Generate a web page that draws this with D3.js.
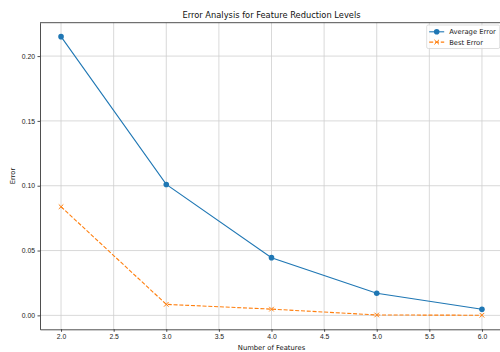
<!DOCTYPE html>
<html>
<head>
<meta charset="utf-8">
<script src="https://cdn.jsdelivr.net/npm/d3@7"></script>
<style>
  body { margin: 0; background: #fff; }
  svg { font-family: "DejaVu Sans", sans-serif; display: block; }
  .grid line { stroke: #cfcfcf; stroke-width: 0.8; }
  .axis path, .axis line { stroke: #222; stroke-width: 0.8; }
  .axis text { fill: #222; font-size: 6.8px; }
</style>
</head>
<body>
<svg id="chart" width="500" height="352"></svg>
<script>
  /***** Data *****/
  var features = [2.0, 3.0, 4.0, 5.0, 6.0];
  var averageError = [0.215, 0.101, 0.0445, 0.017, 0.0047];
  var bestError = [0.0838, 0.0085, 0.0048, 0.0003, 0.0001];
  var xTicks = [2.0, 2.5, 3.0, 3.5, 4.0, 4.5, 5.0, 5.5, 6.0];
  var yTicks = [0.00, 0.05, 0.10, 0.15, 0.20];
  var seriesNames = ["Average Error", "Best Error"];

  /***** Configuration *****/
  var margin = {top: 22.7, right: -3, bottom: 22.7, left: 40};
  var width = 500 - margin.left - margin.right,
      height = 352 - margin.top - margin.bottom;
  var blue = "#1f77b4", orange = "#ff7f0e";

  var svg = d3.select("#chart");
  var g = svg.append("g")
    .attr("transform", "translate(" + margin.left + "," + margin.top + ")");

  // matplotlib-like 5% margins
  var x = d3.scaleLinear().domain([1.8, 6.2]).range([0, width]);
  var yMax = 0.215, ySpan = yMax * 0.05;
  var y = d3.scaleLinear().domain([-ySpan, yMax + ySpan]).range([height, 0]);

  /***** Grid *****/
  var grid = g.append("g").attr("class", "grid");
  grid.selectAll(".gx").data(xTicks).enter().append("line")
    .attr("x1", function (d) { return x(d); }).attr("x2", function (d) { return x(d); })
    .attr("y1", 0).attr("y2", height);
  grid.selectAll(".gy").data(yTicks).enter().append("line")
    .attr("y1", function (d) { return y(d); }).attr("y2", function (d) { return y(d); })
    .attr("x1", 0).attr("x2", width);

  /***** Axes *****/
  g.append("g").attr("class", "axis")
    .attr("transform", "translate(0," + height + ")")
    .call(d3.axisBottom(x).tickValues(xTicks).tickFormat(d3.format(".1f")).tickSize(2.5).tickPadding(2.5).tickSizeOuter(0));
  g.append("g").attr("class", "axis")
    .call(d3.axisLeft(y).tickValues(yTicks).tickFormat(d3.format(".2f")).tickSize(2.5).tickPadding(2.5).tickSizeOuter(0));
  // top/right spines
  g.append("line").attr("x1", 0).attr("x2", width).attr("y1", 0).attr("y2", 0)
    .attr("stroke", "#222").attr("stroke-width", 0.8);
  g.append("line").attr("x1", width).attr("x2", width).attr("y1", 0).attr("y2", height)
    .attr("stroke", "#222").attr("stroke-width", 0.8);

  /***** Lines *****/
  var line = d3.line().x(function (d) { return x(d[0]); }).y(function (d) { return y(d[1]); });
  var avgPts = d3.zip(features, averageError);
  var bestPts = d3.zip(features, bestError);

  g.append("path").datum(avgPts).attr("d", line)
    .attr("fill", "none").attr("stroke", blue).attr("stroke-width", 1.1);
  g.selectAll(".avgPt").data(avgPts).enter().append("circle")
    .attr("cx", function (d) { return x(d[0]); }).attr("cy", function (d) { return y(d[1]); })
    .attr("r", 2.8).attr("fill", blue);

  g.append("path").datum(bestPts).attr("d", line)
    .attr("fill", "none").attr("stroke", orange).attr("stroke-width", 1.1)
    .attr("stroke-dasharray", "4,1.8");
  var xMark = function (sel, cx, cy) {
    var s = 2.3;
    sel.append("path")
      .attr("d", "M" + (cx - s) + "," + (cy - s) + "L" + (cx + s) + "," + (cy + s) +
                 "M" + (cx - s) + "," + (cy + s) + "L" + (cx + s) + "," + (cy - s))
      .attr("stroke", orange).attr("stroke-width", 1).attr("fill", "none");
  };
  bestPts.forEach(function (d) { xMark(g, x(d[0]), y(d[1])); });

  /***** Title and labels *****/
  svg.append("text").attr("x", margin.left + width / 2).attr("y", 18)
    .attr("text-anchor", "middle").attr("font-size", 8.3).attr("fill", "#111")
    .text("Error Analysis for Feature Reduction Levels");
  svg.append("text").attr("x", margin.left + width / 2).attr("y", 350)
    .attr("text-anchor", "middle").attr("font-size", 6.8).attr("fill", "#111")
    .text("Number of Features");
  svg.append("text")
    .attr("transform", "translate(15," + (margin.top + height / 2) + ") rotate(-90)")
    .attr("text-anchor", "middle").attr("font-size", 6.8).attr("fill", "#111")
    .text("Error");

  /***** Legend *****/
  var legend = g.append("g").attr("transform", "translate(" + (426.7 - margin.left) + "," + (25 - margin.top) + ")");
  legend.append("rect").attr("width", 73).attr("height", 23.5).attr("rx", 1.5)
    .attr("fill", "#fff").attr("fill-opacity", 0.8).attr("stroke", "#d5d5d5").attr("stroke-width", 0.8);
  seriesNames.forEach(function (name, i) {
    var ly = 6.8 + i * 10.3;
    var col = i === 0 ? blue : orange;
    var item = legend.append("line").attr("x1", 2.5).attr("x2", 17.5).attr("y1", ly).attr("y2", ly)
      .attr("stroke", col).attr("stroke-width", 1.1);
    if (i === 0) {
      legend.append("circle").attr("cx", 10).attr("cy", ly).attr("r", 2.8).attr("fill", col);
    } else {
      item.attr("stroke-dasharray", "4,1.8");
      xMark(legend, 10, ly);
    }
    legend.append("text").attr("x", 22.5).attr("y", ly + 2.4)
      .attr("font-size", 6.8).attr("fill", "#222").text(name);
  });
</script>
</body>
</html>
